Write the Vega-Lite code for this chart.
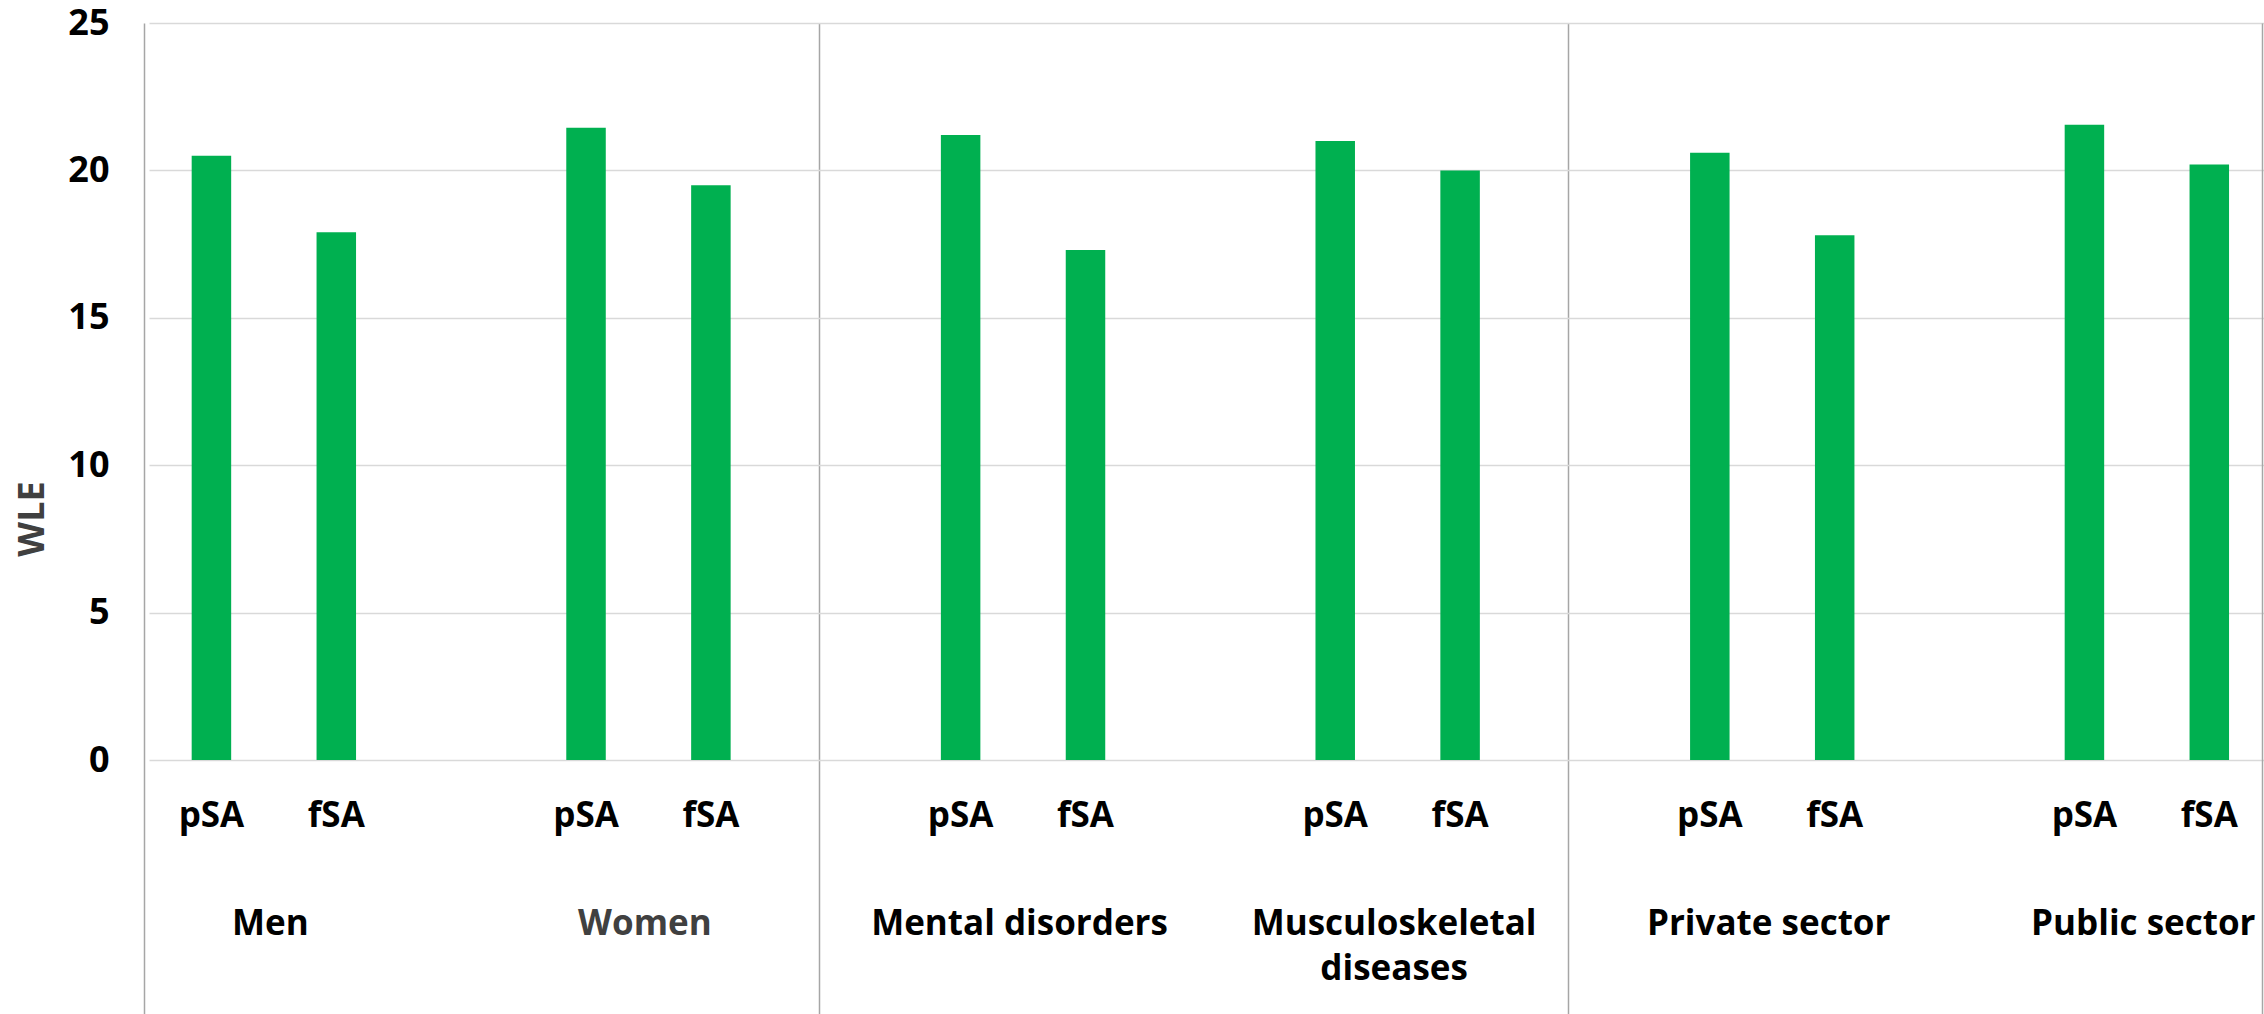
{
  "$schema": "https://vega.github.io/schema/vega-lite/v6.json",
  "width": 2118,
  "height": 991,
  "autosize": {"type": "none"},
  "padding": {"left": 144, "top": 23, "right": 2, "bottom": 0},
  "background": "white",
  "config": {"view": {"stroke": null}, "font": "Open Sans"},
  "data": {
    "values": [
      {"group": "Men", "type": "pSA", "wle": 20.5},
      {"group": "Men", "type": "fSA", "wle": 17.9},
      {"group": "Women", "type": "pSA", "wle": 21.45},
      {"group": "Women", "type": "fSA", "wle": 19.5},
      {"group": "Mental disorders", "type": "pSA", "wle": 21.2},
      {"group": "Mental disorders", "type": "fSA", "wle": 17.3},
      {"group": "Musculoskeletal diseases", "type": "pSA", "wle": 21.0},
      {"group": "Musculoskeletal diseases", "type": "fSA", "wle": 20.0},
      {"group": "Private sector", "type": "pSA", "wle": 20.6},
      {"group": "Private sector", "type": "fSA", "wle": 17.8},
      {"group": "Public sector", "type": "pSA", "wle": 21.55},
      {"group": "Public sector", "type": "fSA", "wle": 20.2}
    ]
  },
  "layer": [
    {
      "mark": {"type": "bar", "color": "#00B050"},
      "encoding": {
        "x": {
          "field": "group",
          "type": "nominal",
          "scale": {
            "domain": ["Men", "Women", "Mental disorders", "Musculoskeletal diseases", "Private sector", "Public sector"],
            "range": [5, 2252.6],
            "paddingInner": 0,
            "paddingOuter": 0
          },
          "axis": {
            "orient": "bottom",
            "offset": -254,
            "title": null,
            "domain": false,
            "ticks": false,
            "grid": false,
            "labelOffset": -66,
            "labelAngle": 0,
            "labelFont": "Open Sans",
            "labelFontSize": 35,
            "labelFontWeight": "bold",
            "labelColor": {"condition": {"test": "datum.value === 'Women'", "value": "#404040"}, "value": "#000000"},
            "labelBaseline": "alphabetic",
            "labelPadding": 174,
            "labelLimit": 0,
            "labelLineHeight": 45,
            "labelOverlap": false,
            "labelExpr": "datum.value === 'Musculoskeletal diseases' ? ['Musculoskeletal', 'diseases'] : datum.label"
          }
        },
        "xOffset": {
          "field": "type",
          "type": "nominal",
          "scale": {"domain": ["pSA", "fSA"], "paddingInner": 0.6837, "paddingOuter": 0.8418, "align": 0.203}
        },
        "y": {
          "field": "wle",
          "type": "quantitative",
          "scale": {"domain": [-8.616, 25], "nice": false, "zero": false},
          "axis": {
            "orient": "left",
            "values": [0, 5, 10, 15, 20, 25],
            "title": "WLE",
            "titleFont": "Open Sans",
            "titleFontSize": 36,
            "titleFontWeight": "bold",
            "titleColor": "#404040",
            "titlePadding": 16,
            "labelFont": "Open Sans",
            "labelFontSize": 36,
            "labelFontWeight": "bold",
            "labelColor": "#000000",
            "labelPadding": 35,
            "ticks": false,
            "domain": true,
            "domainColor": "#A6A6A6",
            "domainWidth": 1.5,
            "grid": true,
            "gridColor": "#D9D9D9",
            "gridWidth": 1.5
          }
        }
      }
    },
    {
      "mark": {"type": "text", "baseline": "alphabetic", "dy": 67, "fontSize": 35, "fontWeight": "bold", "font": "Open Sans", "color": "#000000"},
      "encoding": {
        "x": {
          "field": "group",
          "type": "nominal",
          "axis": {
            "orient": "top",
            "values": ["Women", "Musculoskeletal diseases"],
            "bandPosition": 0.79,
            "grid": true,
            "gridColor": "#A6A6A6",
            "gridWidth": 1.5,
            "labels": false,
            "ticks": false,
            "domain": false,
            "title": null
          }
        },
        "xOffset": {"field": "type", "type": "nominal"},
        "y": {
          "datum": 0,
          "type": "quantitative",
          "axis": {"orient": "right", "domain": true, "domainColor": "#A6A6A6", "domainWidth": 1.5, "labels": false, "ticks": false, "grid": false, "title": null}
        },
        "text": {"field": "type"}
      }
    }
  ],
  "resolve": {"axis": {"x": "independent", "y": "independent"}}
}
